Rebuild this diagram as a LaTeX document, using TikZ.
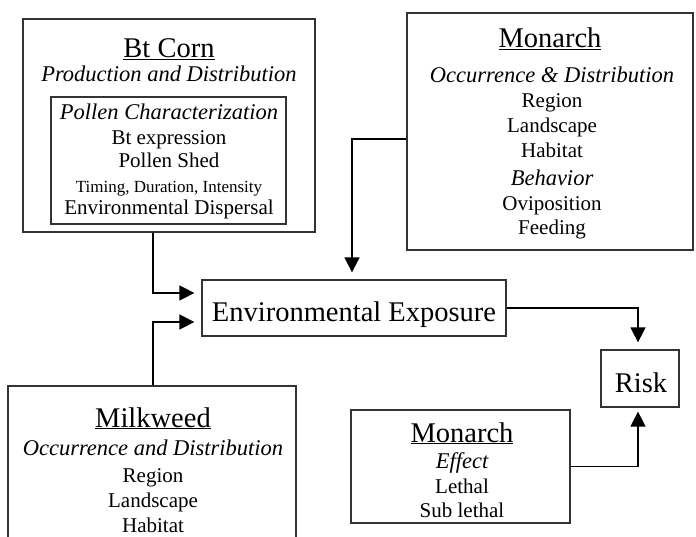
\documentclass[tikz,border=0pt]{standalone}
\usepackage{fontspec}
\setmainfont{Liberation Serif}
\usetikzlibrary{arrows.meta}

\begin{document}
\begin{tikzpicture}[
  x=1pt, y=-1pt,
  panel/.style={draw=black!80, line width=1.3pt, inner sep=0pt},
  head/.style={anchor=base, inner sep=0pt, font=\fontsize{28.5}{30}\selectfont},
  sub/.style={anchor=base, inner sep=0pt, font=\fontsize{22.5}{25}\selectfont\itshape},
  body/.style={anchor=base, inner sep=0pt, font=\fontsize{21}{23}\selectfont},
  small/.style={anchor=base, inner sep=0pt, font=\fontsize{17}{19}\selectfont},
  link/.style={line width=1.6pt, -{Triangle[length=15pt, width=15pt]}, shorten >=7pt}
]
  \useasboundingbox (0,0) rectangle (696,537);

  % Boxes
  \node[panel, minimum width=292pt, minimum height=213pt] (corn) at (169,125.5) {};
  \node[panel, minimum width=235pt, minimum height=127pt] (pollen) at (168.5,160.5) {};
  \node[panel, minimum width=286pt, minimum height=237pt] (occur) at (550,131.5) {};
  \node[panel, minimum width=304pt, minimum height=56pt] (expo) at (354,308) {};
  \node[panel, minimum width=78pt, minimum height=57pt] (risk) at (640,378.5) {};
  \node[panel, minimum width=288pt, minimum height=174pt] (milk) at (152,473) {};
  \node[panel, minimum width=219pt, minimum height=113pt] (effect) at (460.5,466.5) {};

  % Bt corn
  \node[head] (cornhead) at (169,58) {\underline{Bt Corn}};
  \node[sub] (cornsub) at (169,82) {Production and Distribution};
  \node[sub] (pollensub) at (169,120) {Pollen Characterization};
  \node[body] (btexpr) at (169,145) {Bt expression};
  \node[body] (shed) at (169,168) {Pollen Shed};
  \node[small] (timing) at (169,193) {Timing, Duration, Intensity};
  \node[body] (dispersal) at (169,215) {Environmental Dispersal};

  % Monarch occurrence
  \node[head] (monhead) at (550,48) {\underline{Monarch}};
  \node[sub] (monsub) at (552,83) {Occurrence \& Distribution};
  \foreach \txt/\yy in {Region/108, Landscape/133, Habitat/158, Oviposition/211, Feeding/235}
    \node[body] (mon-\yy) at (552,\yy) {\txt};
  \node[sub] (behavior) at (552,186) {Behavior};

  % Milkweed
  \node[head] (milkhead) at (153,427) {\underline{Milkweed}};
  \node[sub] (milksub) at (153,455) {Occurrence and Distribution};
  \foreach \txt/\yy in {Region/482, Landscape/507, Habitat/532}
    \node[body] (milk-\yy) at (153,\yy) {\txt};

  % Monarch effect
  \node[head] (effhead) at (462,442) {\underline{Monarch}};
  \node[sub] (effsub) at (462,468) {Effect};
  \node[body] (lethal) at (462,493) {Lethal};
  \node[body] (sublethal) at (462,517) {Sub lethal};

  % Exposure and risk
  \node[head] (expotext) at (354,322) {Environmental Exposure};
  \node[head] (risktext) at (641,392) {Risk};

  % Connections
  \draw[link] ([xshift=-16pt]corn.south) |- ([yshift=15pt]expo.west);
  \draw[link] ([xshift=1pt]milk.north) |- ([yshift=-14pt]expo.west);
  \draw[link] ([yshift=-7.5pt]occur.west) -| ([xshift=-2pt]expo.north);
  \draw[link] (expo.east) -| ([xshift=-2pt]risk.north);
  \draw[link, shorten >=4pt] (effect.east) -| ([xshift=-2pt]risk.south);
\end{tikzpicture}
\end{document}
